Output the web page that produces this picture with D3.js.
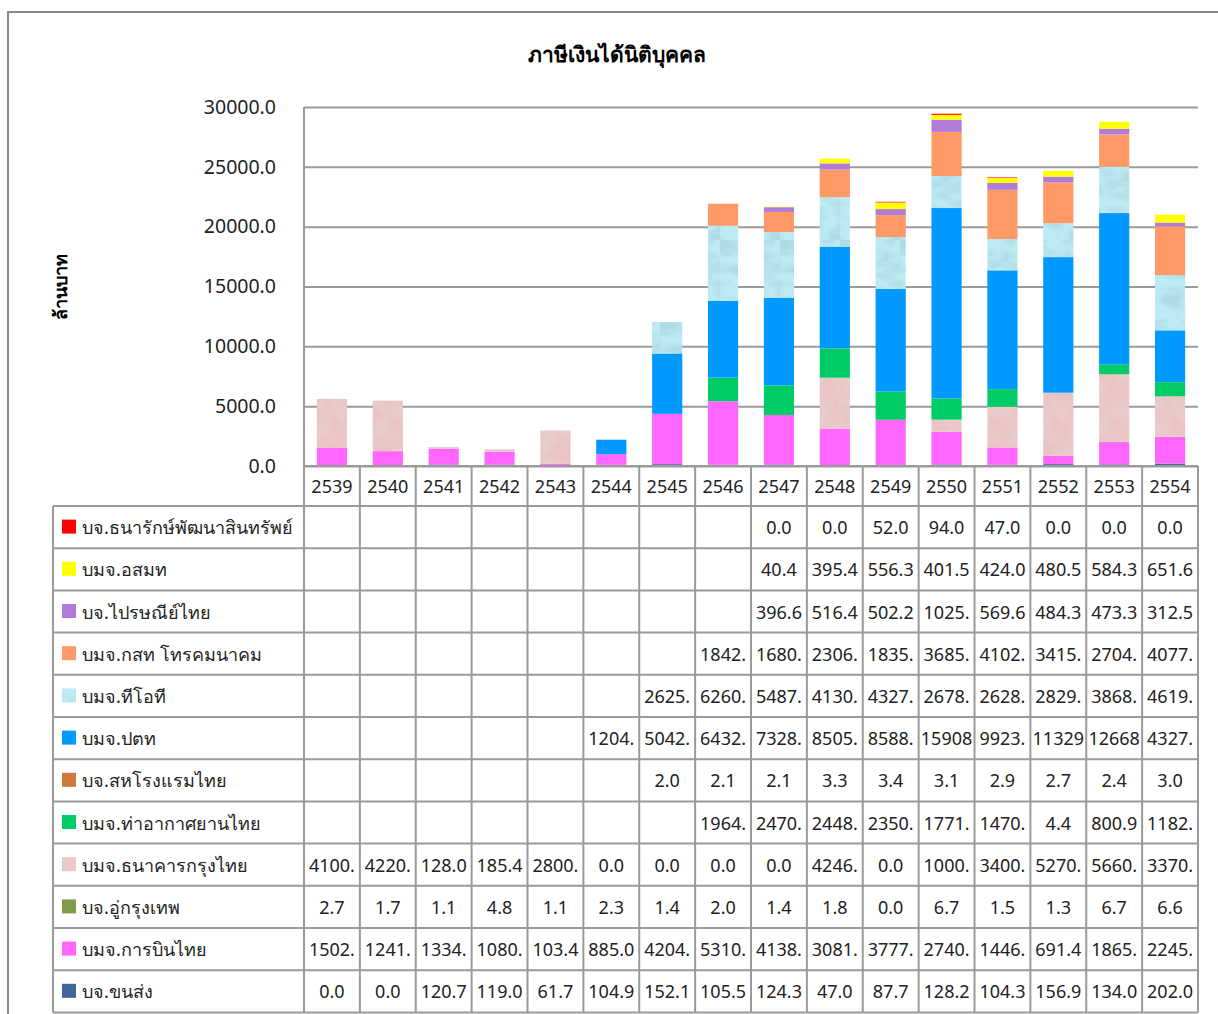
<!DOCTYPE html>
<html>
<head>
<meta charset="utf-8">
<script src="https://cdn.jsdelivr.net/npm/d3@7"></script>
<style>
  body { margin: 0; background: #fff; }
  svg { font-family: Tahoma, "Noto Sans", "DejaVu Sans", sans-serif; }
</style>
</head>
<body>
<div id="chart"></div>
<script>
// years (columns)
const years = ["2539", "2540", "2541", "2542", "2543", "2544", "2545", "2546",
  "2547", "2548", "2549", "2550", "2551", "2552", "2553", "2554"];

// series, listed from the bottom of the stack upward (null = no value)
const khonsong = [0.0, 0.0, 120.7, 119.0, 61.7, 104.9, 152.1, 105.5, 124.3, 47.0, 87.7, 128.2, 104.3, 156.9, 134.0, 202.0];
const thaiAirways = [1502.0, 1241.0, 1334.0, 1080.0, 103.4, 885.0, 4204.0, 5310.0, 4138.0, 3081.0, 3777.0, 2740.0, 1446.0, 691.4, 1865.0, 2245.0];
const uKrungthep = [2.7, 1.7, 1.1, 4.8, 1.1, 2.3, 1.4, 2.0, 1.4, 1.8, 0.0, 6.7, 1.5, 1.3, 6.7, 6.6];
const ktb = [4100.0, 4220.0, 128.0, 185.4, 2800.0, 0.0, 0.0, 0.0, 0.0, 4246.0, 0.0, 1000.0, 3400.0, 5270.0, 5660.0, 3370.0];
const aot = [null, null, null, null, null, null, null, 1964.0, 2470.0, 2448.0, 2350.0, 1771.0, 1470.0, 4.4, 800.9, 1182.0];
const royalHotel = [null, null, null, null, null, null, 2.0, 2.1, 2.1, 3.3, 3.4, 3.1, 2.9, 2.7, 2.4, 3.0];
const ptt = [null, null, null, null, null, 1204.0, 5042.0, 6432.0, 7328.0, 8505.0, 8588.0, 15908.0, 9923.0, 11329.0, 12668.0, 4327.0];
const tot = [null, null, null, null, null, null, 2625.0, 6260.0, 5487.0, 4130.0, 4327.0, 2678.0, 2628.0, 2829.0, 3868.0, 4619.0];
const cat = [null, null, null, null, null, null, null, 1842.0, 1680.0, 2306.0, 1835.0, 3685.0, 4102.0, 3415.0, 2704.0, 4077.0];
const thaiPost = [null, null, null, null, null, null, null, null, 396.6, 516.4, 502.2, 1025.0, 569.6, 484.3, 473.3, 312.5];
const mcot = [null, null, null, null, null, null, null, null, 40.4, 395.4, 556.3, 401.5, 424.0, 480.5, 584.3, 651.6];
const dhanarak = [null, null, null, null, null, null, null, null, 0.0, 0.0, 52.0, 94.0, 47.0, 0.0, 0.0, 0.0];

const seriesNames = ["บจ.ขนส่ง", "บมจ.การบินไทย", "บจ.อู่กรุงเทพ", "บมจ.ธนาคารกรุงไทย",
  "บมจ.ท่าอากาศยานไทย", "บจ.สหโรงแรมไทย", "บมจ.ปตท", "บมจ.ทีโอที",
  "บมจ.กสท โทรคมนาคม", "บจ.ไปรษณีย์ไทย", "บมจ.อสมท", "บจ.ธนารักษ์พัฒนาสินทรัพย์"];
const seriesValues = [khonsong, thaiAirways, uKrungthep, ktb, aot, royalHotel, ptt, tot, cat, thaiPost, mcot, dhanarak];
const seriesFills = ["#3F6699", "#FF66FF", "#7F9A48", "url(#ktbTex)", "#00CC66", "#CC7A3A",
  "#0099FF", "url(#totTex)", "#FF9966", "#B07CD8", "#FFFF00", "#FF0000"];

const yTicks = [0, 5000, 10000, 15000, 20000, 25000, 30000];

const W = 1218, H = 1014;
const plotL = 304, plotR = 1198, plotT = 107, plotB = 466;
const tableLeft = 53, headerBottom = 506, rowH = 42.2;

const svg = d3.select("#chart").append("svg")
  .attr("width", W).attr("height", H);

// textures for TOT and Krungthai bank
const defs = svg.append("defs");
function texture(id, base, dark, freq, seed, strength, offset) {
  const f = defs.append("filter").attr("id", id + "F")
    .attr("x", 0).attr("y", 0).attr("width", "100%").attr("height", "100%");
  f.append("feTurbulence").attr("type", "fractalNoise")
    .attr("baseFrequency", freq).attr("numOctaves", 3).attr("seed", seed);
  f.append("feColorMatrix").attr("type", "matrix")
    .attr("values", `0 0 0 0 ${dark[0]}  0 0 0 0 ${dark[1]}  0 0 0 0 ${dark[2]}  ${strength} 0 0 0 ${offset}`);
  const p = defs.append("pattern").attr("id", id)
    .attr("patternUnits", "userSpaceOnUse").attr("width", 60).attr("height", 80);
  p.append("rect").attr("width", 60).attr("height", 80).attr("fill", base);
  p.append("rect").attr("width", 60).attr("height", 80).attr("filter", `url(#${id}F)`);
}
texture("totTex", "#BDEBF3", [0.42, 0.7, 0.78], "0.035 0.06", 4, 3.2, -1.2);
texture("ktbTex", "#EAC4C4", [0.8, 0.64, 0.64], "0.05", 7, 2.0, -0.8);

// frame
svg.append("path")
  .attr("d", `M8,${H}V12H${W}`)
  .attr("fill", "none").attr("stroke", "#8a8a8a").attr("stroke-width", 2);

// title
svg.append("text")
  .attr("x", 617).attr("y", 62)
  .attr("text-anchor", "middle")
  .attr("font-size", 21).attr("font-weight", "bold")
  .text("ภาษีเงินได้นิติบุคคล");

// y label
svg.append("text")
  .attr("transform", "translate(67,287) rotate(-90)")
  .attr("text-anchor", "middle")
  .attr("font-size", 18).attr("font-weight", "bold")
  .text("ล้านบาท");

// scales
const x = d3.scaleBand().domain(years).range([plotL, plotR]).padding(0);
const y = d3.scaleLinear().domain([0, 30000]).range([plotB, plotT]);

// gridlines + tick labels
const yAxis = svg.append("g")
  .attr("transform", `translate(${plotL},0)`)
  .call(d3.axisLeft(y).tickValues(yTicks).tickFormat(d3.format(".1f"))
    .tickSize(-(plotR - plotL)).tickPadding(28));
yAxis.select(".domain").remove();
yAxis.selectAll(".tick line").attr("stroke", "#9a9a9a").attr("stroke-width", 2);
yAxis.selectAll(".tick text").attr("font-size", 19.5).attr("fill", "#222")
  .attr("font-family", "Tahoma, 'Noto Sans', sans-serif");

// left axis line
svg.append("line")
  .attr("x1", plotL).attr("x2", plotL).attr("y1", plotT).attr("y2", plotB)
  .attr("stroke", "#9a9a9a").attr("stroke-width", 2);

// stacked bars
const rows = years.map((yr, i) => {
  const r = { year: yr };
  seriesNames.forEach((n, k) => { r[n] = seriesValues[k][i] == null ? 0 : seriesValues[k][i]; });
  return r;
});
const stacked = d3.stack().keys(seriesNames)(rows);
const barW = x.bandwidth() * 0.54;

svg.append("g").selectAll("g")
  .data(stacked)
  .join("g")
  .attr("fill", (d, k) => seriesFills[k])
  .selectAll("rect")
  .data(d => d)
  .join("rect")
  .attr("x", d => x(d.data.year) + (x.bandwidth() - barW) / 2)
  .attr("width", barW)
  .attr("y", d => y(d[1]))
  .attr("height", d => Math.max(0, y(d[0]) - y(d[1])));

// data table
const table = svg.append("g").attr("stroke", "#9a9a9a").attr("stroke-width", 2);
const nRows = seriesNames.length;
const tableBottom = headerBottom + nRows * rowH;

// year header row
table.append("line").attr("x1", plotL).attr("x2", plotR).attr("y1", plotB).attr("y2", plotB);
table.append("line").attr("x1", tableLeft).attr("x2", plotR).attr("y1", headerBottom).attr("y2", headerBottom);
for (let r = 1; r <= nRows; r++) {
  const yy = headerBottom + r * rowH;
  table.append("line").attr("x1", tableLeft).attr("x2", plotR).attr("y1", yy).attr("y2", yy);
}
table.append("line").attr("x1", tableLeft).attr("x2", tableLeft).attr("y1", headerBottom).attr("y2", tableBottom);
years.forEach(yr => {
  table.append("line").attr("x1", x(yr)).attr("x2", x(yr)).attr("y1", plotB).attr("y2", tableBottom);
});
table.append("line").attr("x1", plotR).attr("x2", plotR).attr("y1", plotB).attr("y2", tableBottom);

svg.append("g").selectAll("text")
  .data(years)
  .join("text")
  .attr("x", d => x(d) + x.bandwidth() / 2)
  .attr("y", plotB + 27)
  .attr("text-anchor", "middle")
  .attr("font-size", 18).attr("fill", "#222")
  .text(d => d);

// table rows: top row is the top of the stack
const cellText = v => v.toFixed(1).slice(0, 5);
const order = d3.range(nRows).reverse();
order.forEach((k, r) => {
  const cy = headerBottom + r * rowH + rowH / 2;
  svg.append("rect")
    .attr("x", 62).attr("y", cy - 7.5).attr("width", 14).attr("height", 14)
    .attr("fill", seriesFills[k]);
  svg.append("text")
    .attr("x", 82).attr("y", cy + 7)
    .attr("font-size", 18).attr("fill", "#222")
    .text(seriesNames[k]);
  seriesValues[k].forEach((v, i) => {
    if (v == null) return;
    svg.append("text")
      .attr("x", x(years[i]) + x.bandwidth() / 2)
      .attr("y", cy + 7)
      .attr("text-anchor", "middle")
      .attr("font-size", 18).attr("fill", "#222")
      .text(cellText(v));
  });
});
</script>
</body>
</html>
